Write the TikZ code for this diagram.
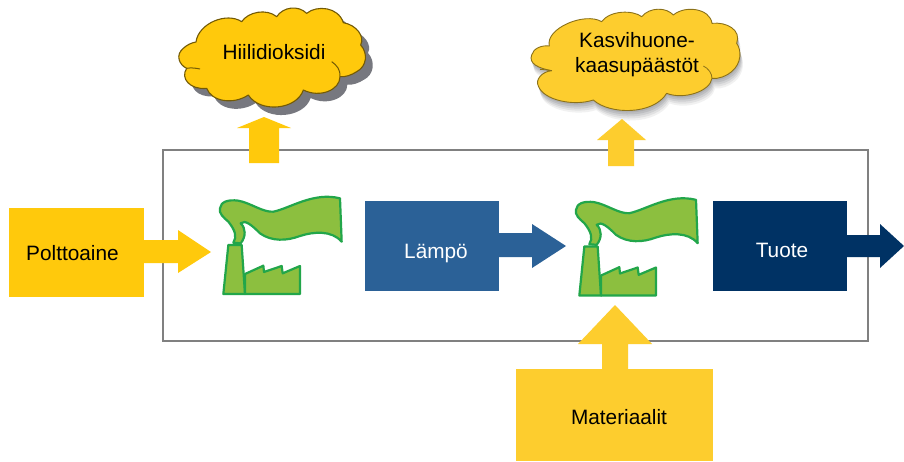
\documentclass[tikz,border=0pt]{standalone}
\usepackage{fontspec}
\setmainfont{Liberation Sans}
\definecolor{gold}{HTML}{FFC90C}
\definecolor{goldb}{HTML}{FDCD2E}
\definecolor{leaf}{HTML}{8CBF3F}
\definecolor{leafd}{HTML}{22A64A}
\definecolor{blueA}{HTML}{2B6197}
\definecolor{navy}{HTML}{003264}
\definecolor{shad}{HTML}{77787F}
\definecolor{frame}{HTML}{808080}
\tikzset{
 x=1pt,y=-1pt,
 txt/.style={font=\fontsize{20.8}{24}\selectfont,text=black,align=center,inner sep=0},
 plant/.style={draw=leafd,fill=leaf,line width=2.2pt,line join=round}
}
\newcommand{\factory}[2]{%
 \begin{scope}[shift={(#1,#2)},scale=1/3]
 \path[plant] (100,188) .. controls (112,170) and (105,150) .. (85,125) .. controls (70,112) and (56,100) .. (60,85) .. controls (62,65) and (85,58) .. (115,62) .. controls (150,68) and (190,98) .. (220,95) .. controls (270,85) and (340,35) .. (420,55) -- (425,185) .. controls (395,150) and (340,155) .. (300,168) .. controls (260,183) and (215,185) .. (180,160) .. controls (155,135) and (135,118) .. (122,130) .. controls (138,145) and (138,170) .. (122,190) -- cycle;
 \path[plant] (85,195) -- (125,195) -- (135,342) -- (70,342) -- cycle;
 \path[plant] (135,342) -- (135,282) -- (190,257) -- (192,276) -- (245,258) -- (248,280) -- (300,258) -- (300,342) -- cycle;
 \end{scope}}
\newcommand{\cloudA}{(50,205) .. controls (28,195) and (15,165) .. (40,145) .. controls (50,135) and (65,128) .. (78,126) .. controls (85,70) and (170,35) .. (215,65) .. controls (235,35) and (290,25) .. (320,50) .. controls (340,20) and (385,15) .. (410,40) .. controls (440,15) and (505,20) .. (520,68) .. controls (560,75) and (585,110) .. (572,135) .. controls (595,160) and (590,200) .. (560,215) .. controls (545,225) and (525,232) .. (510,230) .. controls (510,270) and (450,295) .. (400,270) .. controls (380,330) and (270,340) .. (235,285) .. controls (190,315) and (125,305) .. (110,265) .. controls (60,270) and (30,235) .. (50,205) -- cycle}
\newcommand{\cloudB}{(125,212) .. controls (85,205) and (55,190) .. (65,165) .. controls (70,145) and (95,135) .. (118,138) .. controls (105,85) and (225,35) .. (275,65) .. controls (300,30) and (370,30) .. (395,50) .. controls (420,20) and (470,22) .. (490,45) .. controls (525,15) and (600,25) .. (606,70) .. controls (650,65) and (695,90) .. (680,130) .. controls (695,150) and (695,190) .. (665,215) .. controls (650,228) and (625,238) .. (606,235) .. controls (600,275) and (520,300) .. (470,280) .. controls (430,345) and (300,345) .. (250,300) .. controls (190,320) and (100,300) .. (85,258) .. controls (75,240) and (95,215) .. (125,212) -- cycle}
\begin{document}
\begin{tikzpicture}
\useasboundingbox (0,0) rectangle (904,461);
\fill[white] (0,0) rectangle (904,461);
\coordinate (fr1) at (163,150);
\coordinate (fr2) at (868,341);
\draw[frame,line width=1.3pt] (fr1) rectangle (fr2);
% clouds
\begin{scope}[shift={(170,0)},scale=1/3]
 \fill[shad,shift={(22,24)}] \cloudA;
 \path[fill=gold,draw=black!55!gold,line width=1.1pt,line join=round] \cloudA;
 \draw[black!55!gold,line width=1pt] (510,230) .. controls (512,210) and (500,195) .. (485,185);
 \draw[black!55!gold,line width=1pt] (50,205) .. controls (65,202) and (80,205) .. (90,207);
\end{scope}
\node[txt] (co2) at (274,52) {Hiilidioksidi};
\begin{scope}[shift={(510,0)},scale=1/3]
 \foreach \d/\o in {30/.10,24/.13,18/.16,12/.2,6/.2}{
  \fill[shad,opacity=\o,shift={(\d*.3,\d)}] \cloudB;}
 \path[fill=goldb,draw=black!45!goldb,line width=.9pt,line join=round] \cloudB;
 \draw[black!45!goldb,line width=.8pt] (606,235) .. controls (606,220) and (595,205) .. (580,198);
 \draw[black!45!goldb,line width=.8pt] (125,212) .. controls (110,210) and (100,208) .. (90,208);
\end{scope}
\node[txt] (ghg) at (637,54.5) {Kasvihuone-\\[1pt]kaasupäästöt};
% up arrows
\fill[gold] (249,163) -- (249,128) -- (237,128) -- (264,117) -- (291,128) -- (279,128) -- (279,163) -- cycle;
\fill[goldb] (608,166) -- (608,140) -- (597,140) -- (622,119) -- (646,140) -- (634,140) -- (634,166) -- cycle;
% fuel
\fill[gold] (9,208) rectangle (144,297);
\node[txt] (fuel) at (72.5,253) {Polttoaine};
\fill[gold] (143,240) -- (178,240) -- (178,230) -- (211,252) -- (178,273) -- (178,263) -- (143,263) -- cycle;
\factory{200}{180}
\factory{556}{181.5}
% heat
\fill[blueA] (365,201) rectangle (499,291);
\node[txt,text=white] (heat) at (436,253) {Lämpö};
\fill[blueA] (498,233) -- (532,233) -- (532,224) -- (566,246) -- (532,268) -- (532,257) -- (498,257) -- cycle;
% product
\fill[navy] (713,201) rectangle (847,291);
\node[txt,text=white] (prod) at (782,250) {Tuote};
\fill[navy] (846,235) -- (880,235) -- (880,224) -- (904,246) -- (880,268) -- (880,257) -- (846,257) -- cycle;
% materials
\fill[goldb] (516,369) rectangle (713,461);
\node[txt] (mat) at (619,417) {Materiaalit};
\fill[goldb] (602,370) -- (602,344) -- (578,344) -- (615,305) -- (652,344) -- (628,344) -- (628,370) -- cycle;
\end{tikzpicture}
\end{document}
